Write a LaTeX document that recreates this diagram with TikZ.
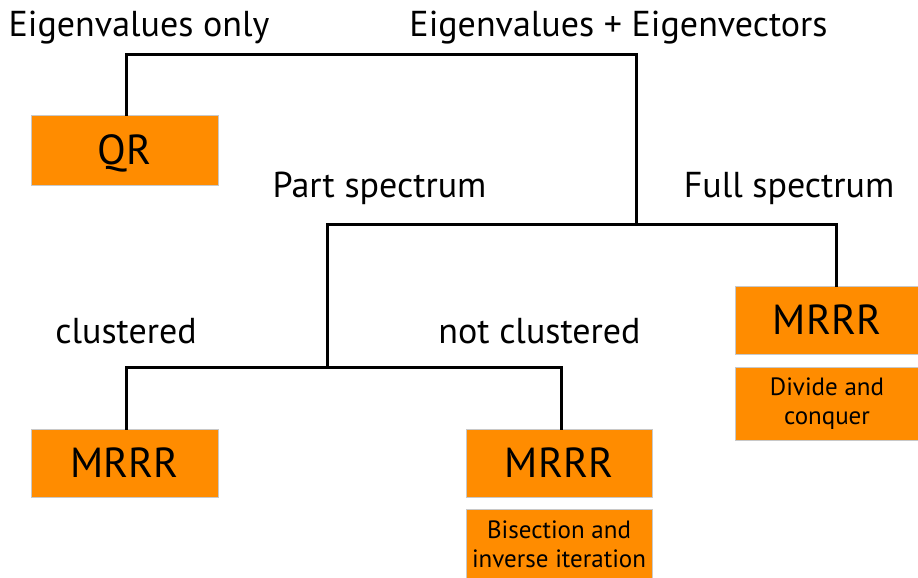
\documentclass[tikz,border=0pt]{standalone}
\usepackage{fontspec}
\setmainfont{PT Sans}
\definecolor{boxorange}{HTML}{FF8C00}
\definecolor{boxedge}{HTML}{C8C8C8}
\tikzset{
  algbox/.style={rectangle, fill=boxorange, draw=boxedge, line width=1pt, inner sep=0pt, align=center},
  bigtxt/.style={font=\fontsize{42}{46}\selectfont, text height=29pt, text depth=0pt},
  smalltxt/.style={font=\fontsize{25}{29}\selectfont},
  lbl/.style={font=\fontsize{36}{40}\selectfont, inner sep=0pt, anchor=base},
  conn/.style={line width=3pt, line join=miter, line cap=rect}
}
\begin{document}
\begin{tikzpicture}[x=1pt,y=-1pt]
\useasboundingbox (0,0) rectangle (918,578);
% labels
\node[lbl] (evonly) at (139,37) {Eigenvalues only};
\node[lbl] (evev) at (618.5,37) {Eigenvalues + Eigenvectors};
\node[lbl] (part) at (379.5,197) {Part spectrum};
\node[lbl] (full) at (789,197) {Full spectrum};
\node[lbl] (clus) at (126,343) {clustered};
\node[lbl] (nclus) at (539.5,343) {not clustered};
% boxes
\node[algbox, bigtxt, minimum width=187pt, minimum height=70pt] (QR) at (124.5,150) {QR};
\node[algbox, bigtxt, minimum width=187pt, minimum height=68pt] (ML) at (124.5,463) {MRRR};
\node[algbox, bigtxt, minimum width=186pt, minimum height=68pt] (MM) at (559,463) {MRRR};
\node[algbox, smalltxt, minimum width=186pt, minimum height=70pt] (BI) at (559,544) {Bisection and\\inverse iteration};
\node[algbox, bigtxt, minimum width=184pt, minimum height=68pt] (MR) at (827,320) {MRRR};
\node[algbox, smalltxt, minimum width=184pt, minimum height=73pt] (DC) at (827,403.5) {Divide and\\conquer};
% junctions
\coordinate (e1) at (636,55);
\coordinate (j1) at (636,224);
\coordinate (j2) at (327,367);
% connectors
\draw[conn] ([xshift=1.5pt]QR.north) |- (e1) -- (j1);
\draw[conn] (j2) |- (j1) -| ([xshift=9pt]MR.north);
\draw[conn] ([xshift=2pt]ML.north) |- (j2) -| ([xshift=2pt]MM.north);
\end{tikzpicture}
\end{document}
